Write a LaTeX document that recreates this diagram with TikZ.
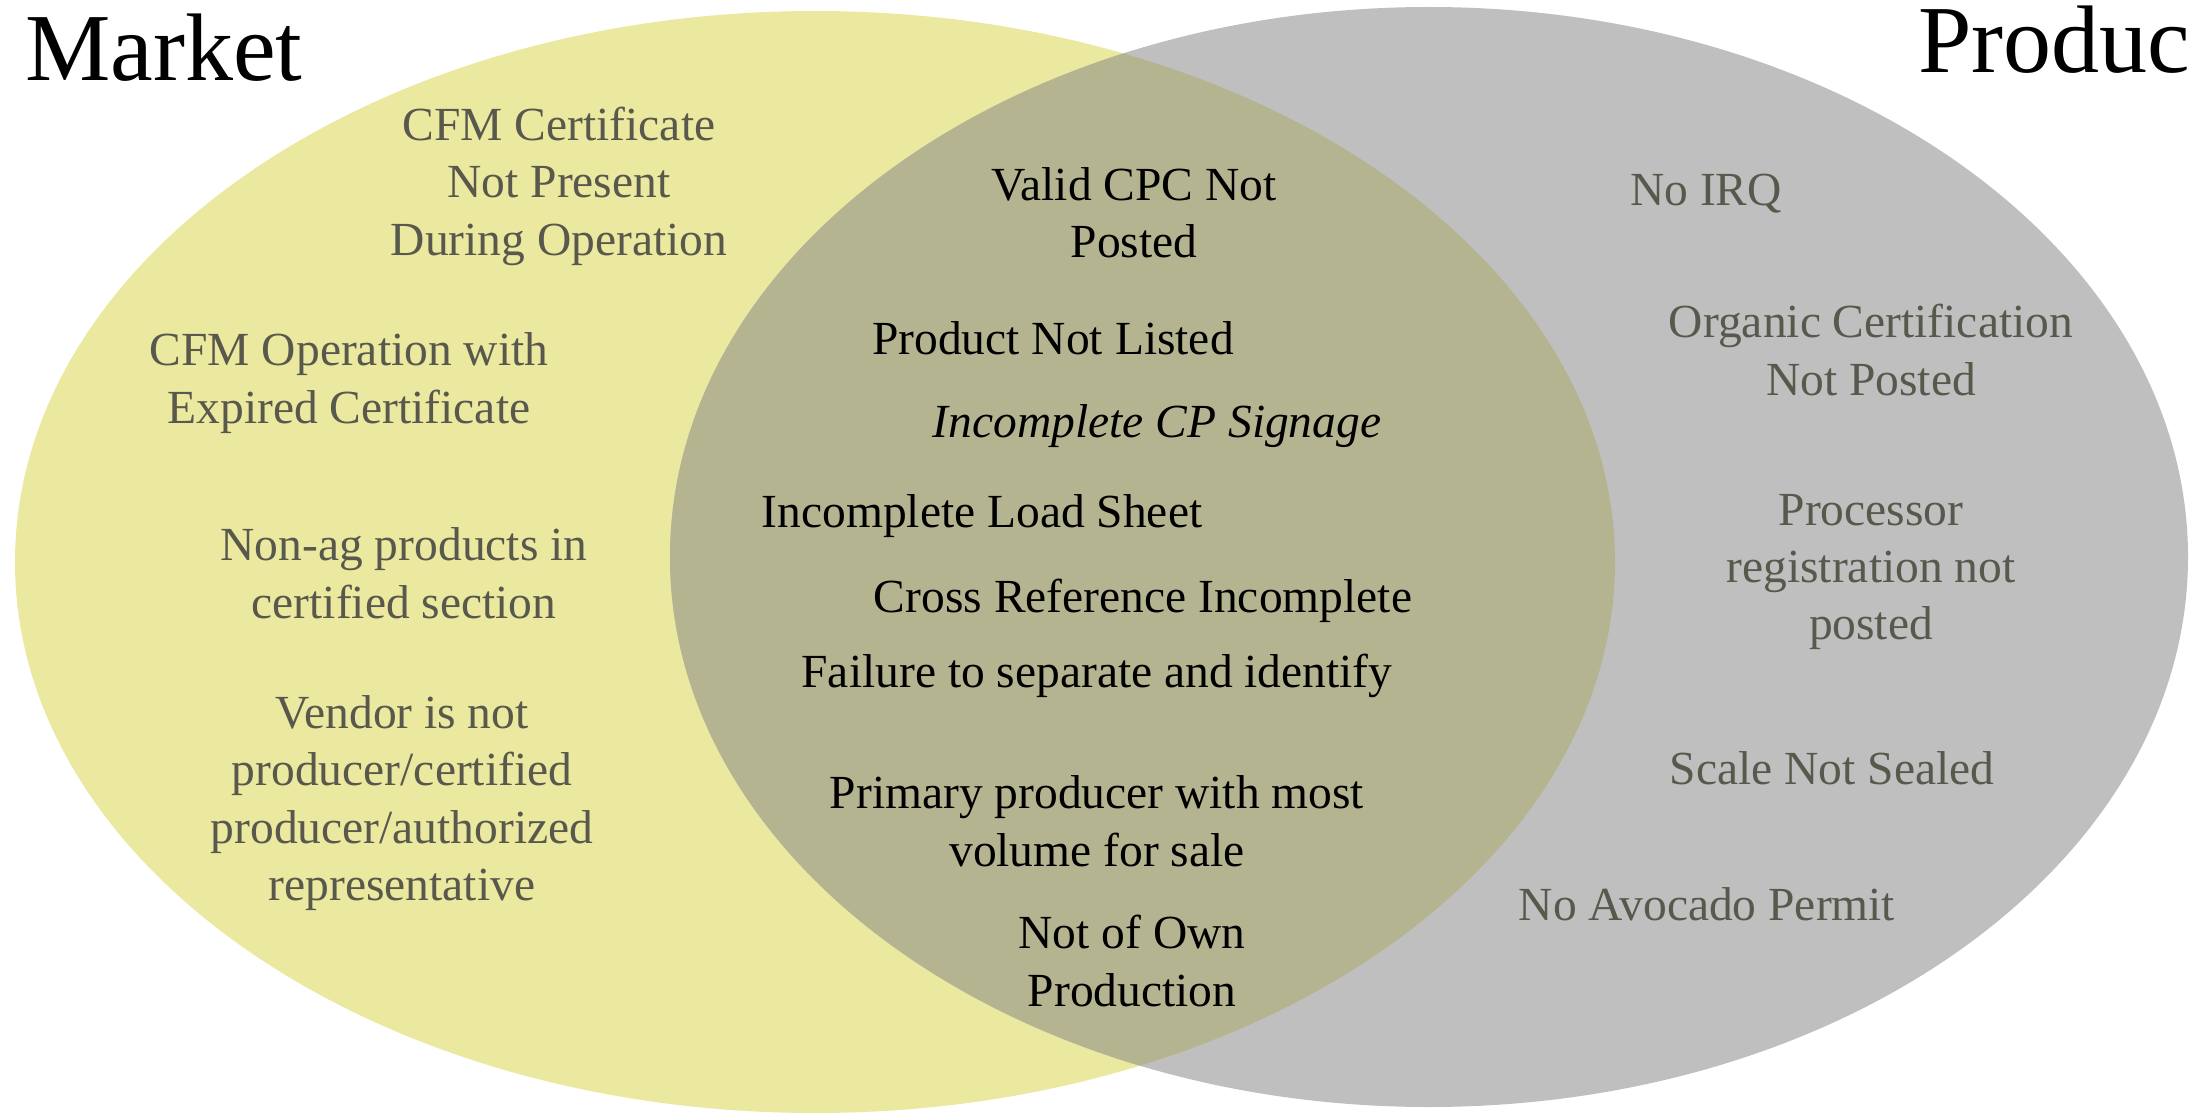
\documentclass[tikz,border=0pt]{standalone}
\usepackage{fontspec}
\setmainfont{Liberation Serif}
\definecolor{marketfill}{HTML}{EBE8A0}
\definecolor{producerfill}{HTML}{BFBFBF}
\definecolor{bothfill}{HTML}{B4B590}
\definecolor{sidetext}{HTML}{58584C}
\begin{document}
\begin{tikzpicture}[x=1pt,y=-1pt,
    title/.style={inner sep=0pt,font=\fontsize{96}{100}\selectfont},
    side/.style={inner sep=0pt,align=center,text=sidetext,font=\fontsize{47.5}{57.5}\selectfont},
    mid/.style={inner sep=0pt,align=center,text=black,font=\fontsize{47.5}{57.5}\selectfont}]
      \useasboundingbox (0,0) rectangle (2196,1113);
      % the two sets and their overlap
      \fill[marketfill] (815,562) ellipse [x radius=800,y radius=551];
      \fill[producerfill] (1429,557) ellipse [x radius=759,y radius=550];
      \begin{scope}
        \clip (1429,557) ellipse [x radius=759,y radius=550];
        \fill[bothfill] (815,562) ellipse [x radius=800,y radius=551];
      \end{scope}
      % headings
      \node[title,anchor=base west] (market) at (25,81) {Market};
      \node[title,anchor=base west] (producer) at (1918,73) {Produc};
      % market only
      \node[side] (cert) at (559,186) {CFM Certificate\\Not Present\\During Operation};
      \node[side] (expired) at (349,383) {CFM Operation with\\Expired Certificate};
      \node[side] (nonag) at (404,573) {Non-ag products in\\certified section};
      \node[side] (vendor) at (402,803) {Vendor is not\\producer/certified\\producer/authorized\\representative};
      % both
      \node[mid] (cpc) at (1134,213) {Valid CPC Not\\Posted};
      \node[mid] (listed) at (1053,338) {Product Not Listed};
      \node[mid,font=\fontsize{47.5}{57.5}\selectfont\itshape] (signage) at (1157,426) {Incomplete CP Signage};
      \node[mid] (load) at (982,516) {Incomplete Load Sheet};
      \node[mid] (crossref) at (1143,601) {Cross Reference Incomplete};
      \node[mid] (separate) at (1097,676) {Failure to separate and identify};
      \node[mid] (primary) at (1097,821) {Primary producer with most\\volume for sale};
      \node[mid] (own) at (1132,961) {Not of Own\\Production};
      % producer only
      \node[side] (irq) at (1706,194) {No IRQ};
      \node[side] (organic) at (1871,350) {Organic Certification\\Not Posted};
      \node[side] (processor) at (1871,572) {Processor\\registration not\\posted};
      \node[side] (scale) at (1832,768) {Scale Not Sealed};
      \node[side] (avocado) at (1707,904) {No Avocado Permit};
    \end{tikzpicture}
\end{document}
